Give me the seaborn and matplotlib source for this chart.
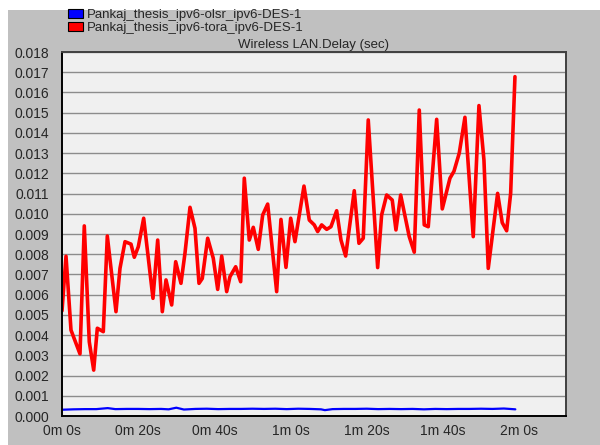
import numpy as np
import pandas as pd
import matplotlib
matplotlib.use("Agg")
import matplotlib.pyplot as plt
from matplotlib.patches import Patch, Rectangle
import seaborn as sns

# --- data (time in s, delay in sec) ---
tora_time = [0.0, 1.05, 2.36, 4.72, 5.85, 7.16, 8.32, 9.27, 10.84, 11.89, 14.17, 15.22,
             16.54, 18.11, 18.98, 20.03, 21.44, 23.88, 25.12, 26.33, 27.30, 28.79, 29.84,
             31.23, 32.28, 33.60, 34.91, 35.96, 36.82, 38.24, 39.71, 40.87, 41.92, 43.23,
             44.09, 45.59, 46.90, 47.85, 49.16, 50.21, 51.52, 52.68, 53.99, 56.35, 57.48,
             58.79, 60.03, 61.15, 63.52, 64.91, 66.22, 67.11, 68.16, 69.48, 70.60, 72.10,
             73.23, 74.46, 76.72, 77.95, 79.08, 80.39, 82.86, 83.90, 85.22, 86.69, 87.66,
             88.90, 91.15, 92.47, 93.78, 95.09, 96.14, 98.35, 99.82, 101.84, 102.89,
             104.28, 105.77, 107.95, 109.45, 110.76, 111.89, 114.35, 115.56, 116.72,
             117.77, 118.90]
tora_delay = [5.2, 7.9, 4.25, 3.07, 9.4, 3.67, 2.27, 4.34, 4.17, 8.9, 5.16, 7.3,
              8.62, 8.5, 7.85, 8.37, 9.78, 5.82, 8.7, 5.16, 6.73, 5.49, 7.63,
              6.56, 8.05, 10.32, 9.28, 6.56, 6.8, 8.79, 7.8, 6.26, 7.91, 6.15,
              6.89, 7.38, 6.64, 11.76, 8.7, 9.33, 8.24, 9.94, 10.48, 6.15, 9.72,
              7.35, 9.78, 8.62, 11.37, 9.69, 9.45, 9.12, 9.45, 9.23, 9.36, 10.15,
              8.7, 7.91, 11.14, 8.54, 8.79, 14.64, 7.34, 9.94, 10.93, 10.68, 9.2,
              10.93, 8.87, 8.1, 15.13, 9.45, 9.36, 14.67, 10.24, 11.76, 12.1,
              13.0, 14.77, 8.87, 15.35, 12.66, 7.3, 11.01, 9.56, 9.16,
              11.01, 16.78]

olsr_time = [0, 3, 6, 9, 12, 14, 17, 20, 23, 26, 28, 30, 32, 35, 38, 41, 44, 47, 50, 53,
             56, 59, 62, 65, 68, 69, 71, 74, 77, 80, 83, 86, 89, 92, 95, 98, 101, 104,
             107, 110, 113, 116, 119]
olsr_delay = [0.31, 0.33, 0.34, 0.34, 0.39, 0.34, 0.35, 0.35, 0.34, 0.35, 0.33, 0.41,
              0.32, 0.35, 0.36, 0.34, 0.35, 0.35, 0.36, 0.35, 0.36, 0.34, 0.36, 0.35,
              0.33, 0.29, 0.34, 0.35, 0.35, 0.36, 0.34, 0.35, 0.34, 0.35, 0.33, 0.35,
              0.34, 0.35, 0.35, 0.36, 0.35, 0.37, 0.33]

olsr_name = "Pankaj_thesis_ipv6-olsr_ipv6-DES-1"
tora_name = "Pankaj_thesis_ipv6-tora_ipv6-DES-1"

x_ticks = [0, 20, 40, 60, 80, 100, 120]
x_labels = ["0m 0s", "0m 20s", "0m 40s", "1m 0s", "1m 20s", "1m 40s", "2m 0s"]

df = pd.concat([
    pd.DataFrame({"t": olsr_time, "delay": np.array(olsr_delay) / 1000, "run": olsr_name}),
    pd.DataFrame({"t": tora_time, "delay": np.array(tora_delay) / 1000, "run": tora_name}),
])

# --- plotting ---
sns.set_style("white")
plt.rcParams["font.family"] = ["Liberation Sans", "DejaVu Sans"]
plt.rcParams["font.size"] = 10

fig = plt.figure(figsize=(6, 4.45), dpi=100)
fig.patches.append(Rectangle((8 / 600, 0), 1, 435 / 445, transform=fig.transFigure,
                             facecolor="#c0c0c0", edgecolor="none", zorder=-10))
ax = fig.add_axes([62 / 600, 29 / 445, 504 / 600, 364 / 445])
ax.set_facecolor("#f0f0f0")

colors = {olsr_name: "#0000ff", tora_name: "#ff0000"}
sns.lineplot(data=df, x="t", y="delay", hue="run", palette=colors, size="run",
             sizes={olsr_name: 1.6, tora_name: 2.6}, legend=False, ax=ax,
             estimator=None, sort=False)

ax.set_xlim(0, 132.3)
ax.set_ylim(0, 0.018)
ax.set_yticks(np.arange(0, 0.0181, 0.001))
ax.set_yticklabels([f"{v:.3f}" for v in np.arange(0, 0.0181, 0.001)])
ax.set_xticks(x_ticks)
ax.set_xticklabels(x_labels)
ax.set_xlabel("")
ax.set_ylabel("")
ax.yaxis.grid(True, color="#8c8c8c", linewidth=1)
ax.xaxis.grid(False)
ax.set_axisbelow(True)
ax.tick_params(axis="y", direction="out", length=7, width=1, pad=2, color="black")
ax.tick_params(axis="x", direction="out", length=5, width=1, pad=1, color="black")
for side in ["left", "bottom"]:
    ax.spines[side].set_color("black")
    ax.spines[side].set_linewidth(1.4)
for side in ["top", "right"]:
    ax.spines[side].set_color("#404040")
    ax.spines[side].set_linewidth(1.4)

ax.set_title("Wireless LAN.Delay (sec)", fontsize=9.5, pad=3)

handles = [Patch(facecolor=colors[n], edgecolor="black", linewidth=0.8, label=n)
           for n in [olsr_name, tora_name]]
fig.legend(handles=handles, loc="upper left", bbox_to_anchor=(68 / 600, 1 - 9 / 445),
           frameon=False, handlelength=1.1, handleheight=0.7, handletextpad=0.3,
           labelspacing=0.05, borderaxespad=0, borderpad=0, fontsize=9.5)

fig.savefig("out.png", dpi=100)
